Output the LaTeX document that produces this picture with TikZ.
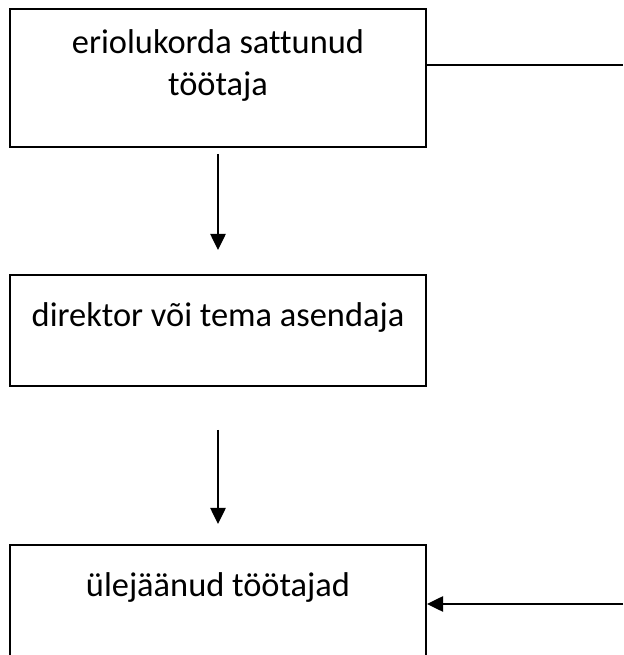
\documentclass[tikz,border=0pt]{standalone}
\usepackage{fontspec}
\setmainfont[Ligatures = NoCommon]{Carlito}
\usetikzlibrary{arrows.meta}

\tikzset{
	kast/.style = {draw, line width = 1.5pt, inner sep = 0pt, minimum width = 312pt, align = center, font = \fontsize{25.8pt}{31.5pt}\selectfont},
	joon/.style = {line width = 1.1pt}
}

\begin{document}
\begin{tikzpicture}[> = {Triangle[length = 12pt, width = 11.5pt]}, x = 0.75pt, y = 0.75pt]

	\useasboundingbox (0, 0) rectangle (623, 655);

	% Boxes

	\node [kast, text height = 65pt, text depth = 38.5pt] (tootaja) at (218, 577) {eriolukorda sattunud\\töötaja};
	\node [kast, text height = 39pt, text depth = 44.25pt] (direktor) at (218, 324.5) {direktor või tema asendaja};
	\node [kast, text height = 39pt, text depth = 54.75pt] (ylejaanud) at (218, 47.5) {ülejäänud töötajad};

	% Lines leaving the picture on the right

	\coordinate (parem1) at (623, 590);
	\coordinate (parem2) at (623, 51);

	\draw [joon] (tootaja.east |- parem1) -- (parem1);
	\draw [joon, ->] (parem2) -- (ylejaanud.east |- parem2);

	% Arrows down

	\draw [joon, ->, shorten <= 4.5pt, shorten >= 18pt] (tootaja.south) -- (direktor.north);
	\draw [joon, ->, shorten <= 32.25pt, shorten >= 15pt] (direktor.south) -- (ylejaanud.north);

\end{tikzpicture}
\end{document}
